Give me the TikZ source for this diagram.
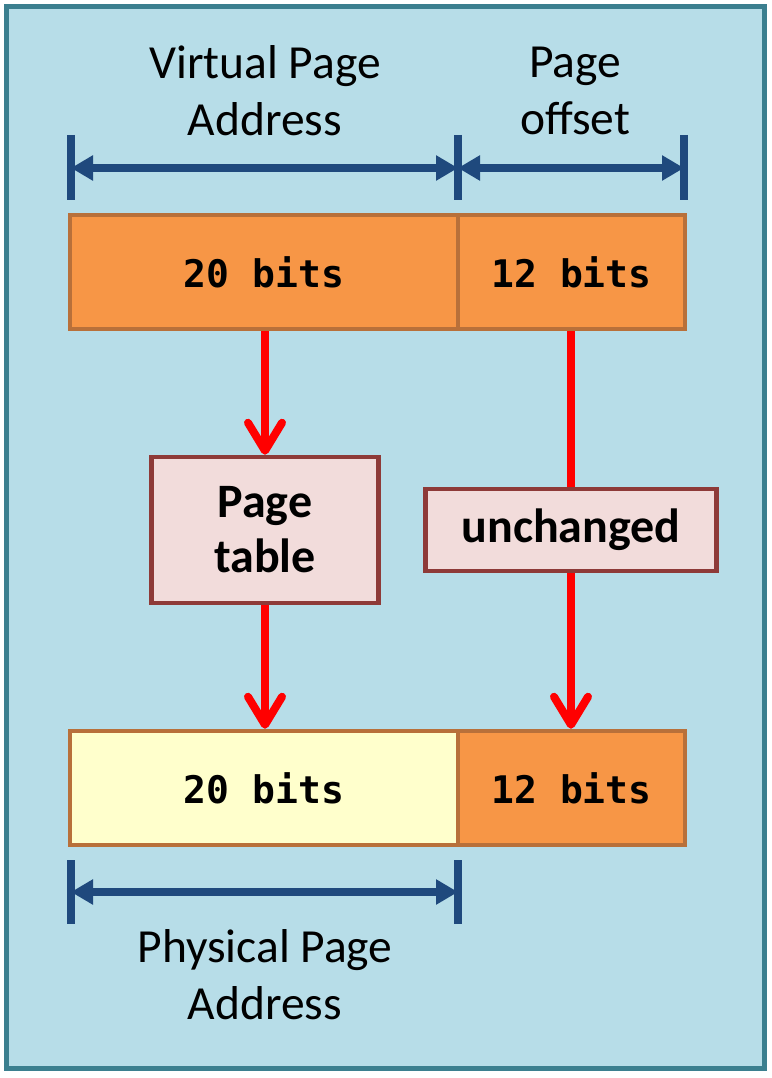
\documentclass[tikz,border=0pt]{standalone}
\usepackage{fontspec}
\setmainfont{Carlito}
\setmonofont{DejaVu Sans Mono}
\usetikzlibrary{arrows.meta}
\definecolor{bgblue}{HTML}{B7DDE8}
\definecolor{frameteal}{HTML}{3B7F8F}
\definecolor{navy}{HTML}{1F497D}
\definecolor{barorange}{HTML}{F79646}
\definecolor{barborder}{HTML}{B8703A}
\definecolor{lightyellow}{HTML}{FFFFCC}
\definecolor{pinkfill}{HTML}{F2DCDB}
\definecolor{pinkborder}{HTML}{8E3A38}
\definecolor{redarrow}{HTML}{FF0000}
\tikzset{
  lbl/.style={align=center, font=\fontsize{47.5}{57}\selectfont, inner sep=0pt},
  bar/.style={draw=barborder, line width=4.5pt, minimum height=114pt, inner sep=0pt,
    font=\ttfamily\bfseries\fontsize{38}{40}\selectfont},
  procbox/.style={draw=pinkborder, fill=pinkfill, line width=4.5pt, inner sep=0pt, align=center,
    font=\bfseries\fontsize{48}{55}\selectfont},
  redline/.style={draw=redarrow, line width=8pt},
  redtip/.style={-{Straight Barb[length=28pt,width=34pt,line cap=round,round]}},
  dimline/.style={draw=navy, line width=8pt, {Triangle[length=22pt,width=24pt]}-{Triangle[length=22pt,width=24pt]}},
  tickline/.style={draw=navy, line width=8pt}
}
\begin{document}
\begin{tikzpicture}[x=1pt,y=-1pt]
\useasboundingbox (0,0) rectangle (771,1078);
\fill[white] (0,0) rectangle (771,1078);
\draw[line width=5pt, draw=frameteal, fill=bgblue] (6.5,6.5) rectangle (764.5,1068.5);

% labels
\node[lbl] (vlab) at (265,91) {Virtual Page\\Address};
\node[lbl] (olab) at (575,91) {Page\\offset};
\node[lbl] (plab) at (265,975) {Physical Page\\Address};

% dimension ticks
\coordinate (ta) at (71,168);
\coordinate (tb) at (458,168);
\coordinate (tc) at (684,168);
\coordinate (ta1) at (71,135); \coordinate (ta2) at (71,200);
\coordinate (tb1) at (458,135); \coordinate (tb2) at (458,200);
\coordinate (tc1) at (684,135); \coordinate (tc2) at (684,200);
\draw[tickline] (ta1) -- (ta2);
\draw[tickline] (tb1) -- (tb2);
\draw[tickline] (tc1) -- (tc2);
\draw[dimline] (ta) -- (tb);
\draw[dimline] (tb) -- (tc);

\coordinate (ba) at (71,892);
\coordinate (bb) at (458,892);
\coordinate (ba1) at (71,860); \coordinate (ba2) at (71,924);
\coordinate (bb1) at (458,860); \coordinate (bb2) at (458,924);
\draw[tickline] (ba1) -- (ba2);
\draw[tickline] (bb1) -- (bb2);
\draw[dimline] (ba) -- (bb);

% bars
\node[bar, fill=barorange, minimum width=388pt] (v20) at (264,272) {20 bits};
\node[bar, fill=barorange, minimum width=227pt] (v12) at (571.5,272) {12 bits};
\node[bar, fill=lightyellow, minimum width=388pt] (p20) at (264,788) {20 bits};
\node[bar, fill=barorange, minimum width=227pt] (p12) at (571.5,788) {12 bits};

% boxes
\node[procbox, minimum width=227pt, minimum height=146pt] (pt) at (265,530) {Page\\table};
\node[procbox, minimum width=291pt, minimum height=82pt] (un) at (571,530) {unchanged};

% red arrows
\draw[redline, redtip] (v20.south -| pt.north) -- (pt.north);
\draw[redline, redtip] (pt.south) -- (pt.south |- p20.north);
\draw[redline] (v12.south -| un.north) -- (un.north);
\draw[redline, redtip] (un.south) -- (un.south |- p12.north);
\end{tikzpicture}
\end{document}
